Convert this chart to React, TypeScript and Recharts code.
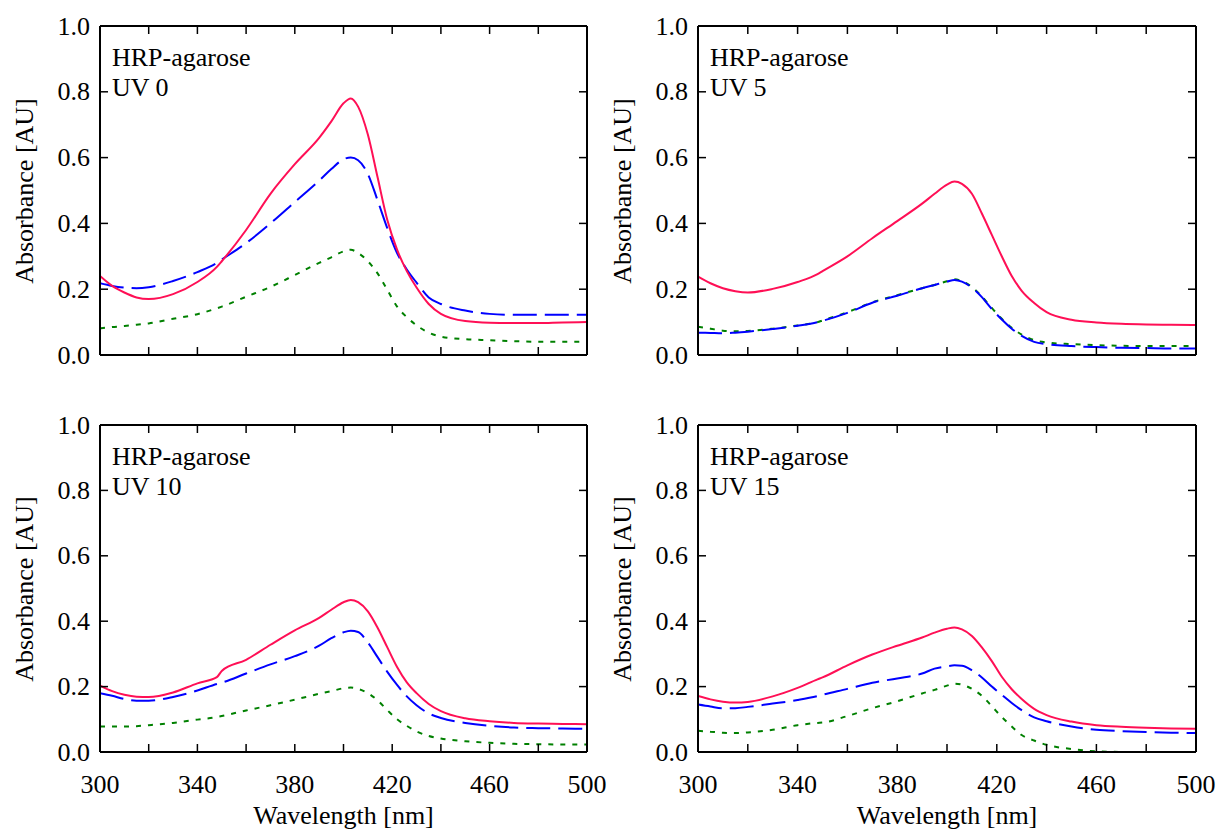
import { LineChart, Line, XAxis, YAxis } from "recharts";

// wavelength grid (nm) shared by every series
const wavelengths = [
  300, 305, 310, 315, 320, 330, 340, 348, 350, 360, 370, 380, 390, 395, 400, 403,
  406, 410, 414, 418, 422, 426, 430, 435, 440, 450, 460, 470, 480, 490, 500,
];

const redUV0 = [0.24, 0.21, 0.19, 0.175, 0.17, 0.185, 0.222, 0.268, 0.285, 0.38, 0.49, 0.58, 0.66, 0.71, 0.765, 0.78, 0.755, 0.67, 0.54, 0.41, 0.32, 0.255, 0.205, 0.155, 0.125, 0.103, 0.098, 0.097, 0.097, 0.099, 0.1];
const blueUV0 = [0.218, 0.21, 0.205, 0.203, 0.206, 0.225, 0.252, 0.28, 0.29, 0.34, 0.4, 0.465, 0.53, 0.565, 0.595, 0.6, 0.592, 0.55, 0.47, 0.385, 0.31, 0.26, 0.22, 0.175, 0.155, 0.135, 0.125, 0.122, 0.122, 0.122, 0.122];
const greenUV0 = [0.081, 0.085, 0.088, 0.092, 0.096, 0.11, 0.124, 0.142, 0.147, 0.177, 0.207, 0.243, 0.28, 0.297, 0.315, 0.32, 0.31, 0.285, 0.248, 0.198, 0.147, 0.115, 0.09, 0.068, 0.056, 0.048, 0.045, 0.042, 0.04, 0.04, 0.041];

const redUV5 = [0.238, 0.218, 0.203, 0.194, 0.19, 0.201, 0.222, 0.246, 0.255, 0.3, 0.355, 0.407, 0.46, 0.49, 0.518, 0.527, 0.52, 0.49, 0.43, 0.365, 0.3, 0.24, 0.195, 0.158, 0.13, 0.107, 0.099, 0.095, 0.093, 0.092, 0.091];
const blueUV5 = [0.068, 0.067, 0.066, 0.068, 0.071, 0.079, 0.089, 0.1, 0.104, 0.128, 0.159, 0.18, 0.203, 0.213, 0.223, 0.228, 0.223, 0.205, 0.176, 0.14, 0.108, 0.08, 0.058, 0.04, 0.033, 0.027, 0.024, 0.022, 0.021, 0.02, 0.02];
const greenUV5 = [0.086, 0.08, 0.074, 0.072, 0.073, 0.08, 0.09, 0.1, 0.105, 0.13, 0.16, 0.182, 0.203, 0.213, 0.224, 0.23, 0.225, 0.207, 0.178, 0.143, 0.11, 0.083, 0.062, 0.045, 0.038, 0.033, 0.03, 0.028, 0.027, 0.027, 0.027];

const redUV10 = [0.203, 0.186, 0.175, 0.169, 0.168, 0.182, 0.21, 0.229, 0.248, 0.282, 0.328, 0.372, 0.41, 0.435, 0.458, 0.465, 0.458, 0.43, 0.38, 0.32, 0.26, 0.213, 0.18, 0.147, 0.125, 0.103, 0.094, 0.089, 0.087, 0.086, 0.085];
const blueUV10 = [0.18, 0.172, 0.162, 0.157, 0.157, 0.168, 0.188, 0.208, 0.212, 0.24, 0.268, 0.293, 0.325, 0.348, 0.366, 0.371, 0.367, 0.335, 0.29, 0.245, 0.205, 0.17, 0.143, 0.118, 0.104, 0.089, 0.08, 0.075, 0.073, 0.072, 0.071];
const greenUV10 = [0.078, 0.078, 0.078, 0.079, 0.082, 0.089, 0.099, 0.107, 0.11, 0.127, 0.143, 0.16, 0.178, 0.186, 0.195, 0.197, 0.193, 0.18, 0.158, 0.128, 0.1, 0.08, 0.063, 0.049, 0.041, 0.033, 0.028, 0.025, 0.024, 0.023, 0.023];

const redUV15 = [0.171, 0.161, 0.154, 0.151, 0.153, 0.17, 0.196, 0.222, 0.228, 0.265, 0.298, 0.325, 0.35, 0.365, 0.377, 0.381, 0.375, 0.355, 0.32, 0.278, 0.23, 0.192, 0.162, 0.132, 0.113, 0.093, 0.082, 0.077, 0.074, 0.072, 0.071];
const blueUV15 = [0.145, 0.139, 0.134, 0.134, 0.138, 0.148, 0.159, 0.171, 0.175, 0.193, 0.212, 0.225, 0.24, 0.255, 0.262, 0.265, 0.264, 0.25, 0.228, 0.2, 0.175, 0.15, 0.128, 0.106, 0.094, 0.078, 0.068, 0.064, 0.061, 0.059, 0.058];
const greenUV15 = [0.065, 0.062, 0.059, 0.058, 0.06, 0.068, 0.082, 0.089, 0.09, 0.11, 0.134, 0.155, 0.179, 0.19, 0.203, 0.209, 0.206, 0.193, 0.172, 0.14, 0.107, 0.078, 0.052, 0.035, 0.022, 0.009, 0.002, 0, -0.01, -0.015, -0.02];

const xTicks = [300, 320, 340, 360, 380, 400, 420, 440, 460, 480, 500];
const xLabelTicks = [300, 340, 380, 420, 460, 500];
const yTicks = [0, 0.2, 0.4, 0.6, 0.8, 1.0];

const FONT = "'Liberation Serif', 'Times New Roman', serif";
const FS = 26;
const TICK = 8;
const axisLine = { stroke: "#000", strokeWidth: 2 };

function BottomTick(props: any) {
  const { x, y, payload, showLabel } = props;
  const v = payload.value;
  return (
    <g>
      <line x1={x} y1={y} x2={x} y2={y - TICK} stroke="#000" strokeWidth={1.5} />
      {showLabel && xLabelTicks.includes(v) ? (
        <text x={x} y={y + 32} textAnchor="middle" dominantBaseline="central" fontFamily={FONT} fontSize={FS} fill="#000">
          {v}
        </text>
      ) : null}
    </g>
  );
}

function TopTick(props: any) {
  const { x, y } = props;
  return <line x1={x} y1={y} x2={x} y2={y + TICK} stroke="#000" strokeWidth={1.5} />;
}

function LeftTick(props: any) {
  const { x, y, payload } = props;
  return (
    <g>
      <line x1={x} y1={y} x2={x + TICK} y2={y} stroke="#000" strokeWidth={1.5} />
      <text x={x - 10} y={y} textAnchor="end" dominantBaseline="central" fontFamily={FONT} fontSize={FS} fill="#000">
        {Number(payload.value).toFixed(1)}
      </text>
    </g>
  );
}

function RightTick(props: any) {
  const { x, y } = props;
  return <line x1={x} y1={y} x2={x - TICK} y2={y} stroke="#000" strokeWidth={1.5} />;
}

type PlotBox = { left: number; top: number; right: number; bottom: number };

function Panel({
  plot,
  uv,
  red,
  blue,
  green,
  xLabels,
}: {
  plot: PlotBox;
  uv: string;
  red: number[];
  blue: number[];
  green: number[];
  xLabels: boolean;
}) {
  const w = plot.right - plot.left;
  const h = plot.bottom - plot.top;
  const data = wavelengths.map((wl, i) => ({ wl, red: red[i], blue: blue[i], green: green[i] }));
  const textStyle: React.CSSProperties = {
    position: "absolute",
    fontFamily: FONT,
    fontSize: FS,
    color: "#000",
    whiteSpace: "nowrap",
  };

  return (
    <>
      <div style={{ position: "absolute", left: plot.left - 100, top: plot.top - 26 }}>
        <LineChart width={w + 120} height={h + 106} data={data} margin={{ top: 20, right: 10, bottom: 40, left: 40 }}>
          <XAxis
            xAxisId="b"
            type="number"
            dataKey="wl"
            domain={[300, 500]}
            ticks={xTicks}
            interval={0}
            allowDataOverflow
            height={40}
            tickSize={0}
            tickMargin={0}
            tickLine={false}
            axisLine={axisLine}
            tick={(p: any) => <BottomTick {...p} showLabel={xLabels} />}
          />
          <XAxis
            xAxisId="t"
            orientation="top"
            type="number"
            dataKey="wl"
            domain={[300, 500]}
            ticks={xTicks}
            interval={0}
            allowDataOverflow
            height={6}
            tickSize={0}
            tickMargin={0}
            tickLine={false}
            axisLine={axisLine}
            tick={(p: any) => <TopTick {...p} />}
          />
          <YAxis
            yAxisId="l"
            type="number"
            domain={[0, 1]}
            ticks={yTicks}
            interval={0}
            allowDataOverflow
            width={60}
            tickSize={0}
            tickMargin={0}
            tickLine={false}
            axisLine={axisLine}
            tick={(p: any) => <LeftTick {...p} />}
          />
          <YAxis
            yAxisId="r"
            orientation="right"
            type="number"
            domain={[0, 1]}
            ticks={yTicks}
            interval={0}
            allowDataOverflow
            width={10}
            tickSize={0}
            tickMargin={0}
            tickLine={false}
            axisLine={axisLine}
            tick={(p: any) => <RightTick {...p} />}
          />
          <Line xAxisId="b" yAxisId="l" type="monotone" dataKey="green" stroke="#008000" strokeWidth={2} strokeDasharray="5 7" dot={false} isAnimationActive={false} />
          <Line xAxisId="b" yAxisId="l" type="monotone" dataKey="blue" stroke="#0000ff" strokeWidth={2} strokeDasharray="24 8" dot={false} isAnimationActive={false} />
          <Line xAxisId="b" yAxisId="l" type="monotone" dataKey="red" stroke="#ff0f55" strokeWidth={2} dot={false} isAnimationActive={false} />
        </LineChart>
      </div>
      <div style={{ ...textStyle, left: plot.left + 12, top: plot.top + 17, lineHeight: "30px" }}>
        HRP-agarose
        <br />
        {uv}
      </div>
      <div
        style={{
          ...textStyle,
          left: plot.left - 75,
          top: (plot.top + plot.bottom) / 2,
          transform: "translate(-50%, -50%) rotate(-90deg)",
        }}
      >
        Absorbance [AU]
      </div>
      {xLabels ? (
        <div
          style={{
            ...textStyle,
            left: (plot.left + plot.right) / 2,
            top: plot.bottom + 64,
            transform: "translate(-50%, -50%)",
          }}
        >
          Wavelength [nm]
        </div>
      ) : null}
    </>
  );
}

export default function App() {
  return (
    <div style={{ position: "absolute", left: 0, top: 0, width: 1220, height: 831, background: "#fff", overflow: "hidden" }}>
      <Panel plot={{ left: 100, top: 26, right: 587, bottom: 355 }} uv="UV 0" red={redUV0} blue={blueUV0} green={greenUV0} xLabels={false} />
      <Panel plot={{ left: 698, top: 26, right: 1196, bottom: 355 }} uv="UV 5" red={redUV5} blue={blueUV5} green={greenUV5} xLabels={false} />
      <Panel plot={{ left: 100, top: 425, right: 587, bottom: 752 }} uv="UV 10" red={redUV10} blue={blueUV10} green={greenUV10} xLabels />
      <Panel plot={{ left: 698, top: 425, right: 1196, bottom: 752 }} uv="UV 15" red={redUV15} blue={blueUV15} green={greenUV15} xLabels />
    </div>
  );
}
